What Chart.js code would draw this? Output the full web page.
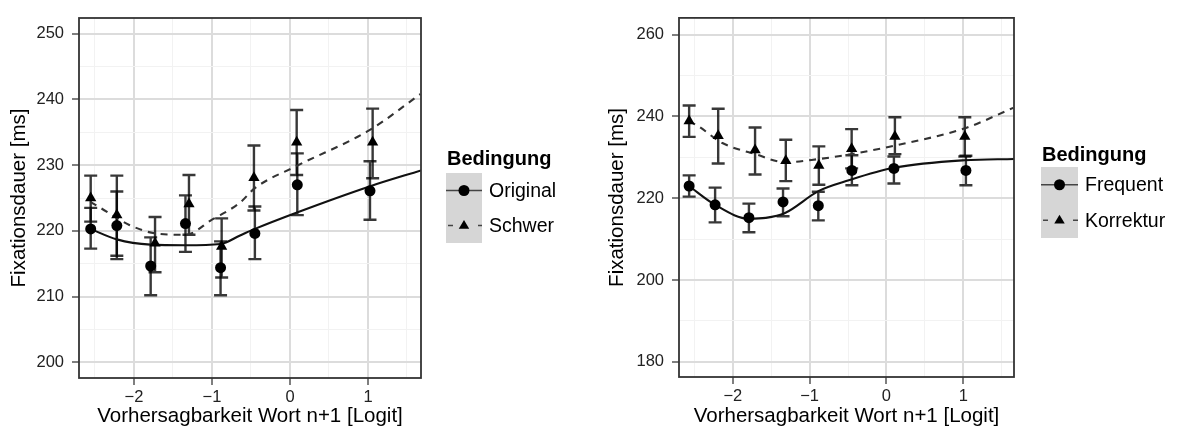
<!DOCTYPE html>
<html>
<head>
<meta charset="utf-8">
<script src="https://cdn.jsdelivr.net/npm/chart.js@4.4.1/dist/chart.umd.min.js"></script>
<style>
  body { margin: 0; background: #fff; }
  #wrap { position: relative; width: 1179px; height: 430px; }
  canvas { position: absolute; top: 0; }
</style>
</head>
<body>
<div id="wrap">
  <canvas id="leftChart" width="600" height="430" style="left:0"></canvas>
  <canvas id="rightChart" width="579" height="430" style="left:600px"></canvas>
</div>
<script>
// ---- left panel: Original / Schwer ----
const leftConditions = ["Original", "Schwer"];
const origX  = [-2.555, -2.22, -1.786, -1.34, -0.89, -0.45, 0.094, 1.026];
const origY  = [220.3, 220.8, 214.65, 221.1, 214.4, 219.6, 227.0, 226.1];
const origLo = [217.3, 215.7, 210.2, 216.8, 210.2, 215.7, 222.4, 221.7];
const origHi = [223.5, 226.0, 219.0, 225.4, 218.4, 223.7, 231.8, 230.6];
const schwerX  = [-2.555, -2.22, -1.73, -1.295, -0.876, -0.462, 0.086, 1.06];
const schwerY  = [225.0, 222.4, 218.1, 224.1, 217.6, 228.1, 233.5, 233.5];
const schwerLo = [221.4, 216.2, 213.7, 219.4, 212.9, 223.1, 228.5, 228.0];
const schwerHi = [228.4, 228.4, 222.1, 228.5, 221.9, 233.0, 238.4, 238.6];
// fitted curves
const origFitX = [-2.56, -2.22, -1.79, -1.34, -0.89, -0.64, -0.45, 0.09, 1.03, 1.68];
const origFitY = [220.3, 218.7, 217.9, 217.8, 218.0, 219.3, 220.3, 222.8, 226.8, 229.2];
const schwerFitX = [-2.56, -2.43, -2.06, -1.72, -1.34, -1.0, -0.64, -0.45, 0.09, 1.03, 1.67];
const schwerFitY = [224.4, 223.5, 220.9, 219.6, 219.4, 221.7, 224.3, 226.5, 229.9, 235.4, 240.8];
const leftYMajor = [200, 210, 220, 230, 240, 250];
const leftYMinor = [205, 215, 225, 235, 245];

// ---- right panel: Frequent / Korrektur ----
const rightConditions = ["Frequent", "Korrektur"];
const freqX  = [-2.568, -2.23, -1.79, -1.346, -0.887, -0.45, 0.097, 1.034];
const freqY  = [223.0, 218.4, 215.25, 219.1, 218.2, 226.8, 227.3, 226.8];
const freqLo = [220.4, 214.1, 211.7, 215.6, 214.6, 223.2, 223.6, 223.2];
const freqHi = [225.6, 222.6, 218.7, 222.4, 221.6, 230.5, 230.2, 230.4];
const korrX  = [-2.568, -2.19, -1.71, -1.31, -0.88, -0.453, 0.11, 1.02];
const korrY  = [238.9, 235.3, 231.8, 229.2, 228.0, 232.1, 235.1, 235.1];
const korrLo = [235.0, 228.5, 225.8, 224.2, 223.3, 227.3, 230.8, 230.2];
const korrHi = [242.7, 241.9, 237.3, 234.3, 232.7, 236.9, 239.8, 239.8];
const freqFitX = [-2.57, -2.23, -1.79, -1.57, -1.32, -0.88, -0.49, 0.11, 1.02, 1.66];
const freqFitY = [223.0, 218.4, 215.0, 215.2, 216.4, 221.8, 224.4, 227.5, 229.3, 229.6];
const korrFitX = [-2.57, -2.44, -2.135, -1.71, -1.31, -0.88, -0.45, 0.11, 1.02, 1.65];
const korrFitY = [238.9, 237.5, 233.5, 230.8, 228.8, 229.6, 230.8, 232.9, 237.1, 242.1];
const rightYMajor = [180, 200, 220, 240, 260];
const rightYMinor = [190, 210, 230, 250];

const xMajor = [-2, -1, 0, 1];
const xMinor = [-2.5, -1.5, -0.5, 0.5, 1.5];

Chart.defaults.font.family = "'Liberation Sans', Arial, sans-serif";
Chart.defaults.color = "#222";

const toPoints = (xs, ys) => xs.map((x, i) => ({ x: x, y: ys[i] }));

function setTicks(major, minor) {
  return (scale) => {
    const list = major.map((v) => ({ value: v }))
      .concat(minor.map((v) => ({ value: v, minor: true })));
    list.sort((a, b) => a.value - b.value);
    scale.ticks = list;
  };
}

function fmt(v) {
  return v < 0 ? "\u2212" + Math.abs(v) : String(v);
}

const gridOpts = {
  color: (ctx) => (ctx.tick && ctx.tick.minor ? "#f2f2f2" : "#dcdcdc"),
  lineWidth: (ctx) => (ctx.tick && ctx.tick.minor ? 1 : 2),
  tickColor: (ctx) => (ctx.tick && ctx.tick.minor ? "rgba(0,0,0,0)" : "#555"),
  tickWidth: 1.5,
  tickLength: 7
};

const errorBars = {
  id: "errorBars",
  beforeDatasetsDraw(chart) {
    const { ctx, scales } = chart;
    ctx.save();
    ctx.strokeStyle = "rgba(0,0,0,0.78)";
    ctx.lineWidth = 2.4;
    chart.data.datasets.forEach((ds) => {
      if (!ds.errLo) return;
      ds.data.forEach((p, i) => {
        const px = scales.x.getPixelForValue(p.x);
        const y1 = scales.y.getPixelForValue(ds.errLo[i]);
        const y2 = scales.y.getPixelForValue(ds.errHi[i]);
        ctx.beginPath();
        ctx.moveTo(px, y1); ctx.lineTo(px, y2);
        ctx.moveTo(px - 6.5, y1); ctx.lineTo(px + 6.5, y1);
        ctx.moveTo(px - 6.5, y2); ctx.lineTo(px + 6.5, y2);
        ctx.stroke();
      });
    });
    ctx.restore();
  }
};

const panelBox = {
  id: "panelBox",
  afterDatasetsDraw(chart) {
    const { ctx, chartArea: a } = chart;
    ctx.save();
    ctx.strokeStyle = "#333";
    ctx.lineWidth = 1.8;
    ctx.strokeRect(a.left, a.top, a.right - a.left, a.bottom - a.top);
    ctx.restore();
  }
};

function drawMarker(ctx, style, x, y, r) {
  ctx.beginPath();
  if (style === "triangle") {
    ctx.moveTo(x, y - r);
    ctx.lineTo(x + r * 0.95, y + r * 0.6);
    ctx.lineTo(x - r * 0.95, y + r * 0.6);
    ctx.closePath();
  } else {
    ctx.arc(x, y, r, 0, Math.PI * 2);
  }
  ctx.fill();
}

const ggLegend = {
  id: "ggLegend",
  afterDraw(chart, args, opts) {
    const { ctx } = chart;
    ctx.save();
    ctx.fillStyle = "#000";
    ctx.font = "bold 20px 'Liberation Sans', Arial, sans-serif";
    ctx.textBaseline = "middle";
    ctx.fillText(opts.title, opts.x + 1, opts.titleY);
    ctx.fillStyle = "#d6d6d6";
    ctx.fillRect(opts.x, opts.boxY, opts.boxW, opts.keyH * opts.labels.length);
    opts.labels.forEach((label, i) => {
      const cy = opts.boxY + opts.keyH * (i + 0.5);
      ctx.strokeStyle = "#444";
      ctx.lineWidth = 1.6;
      ctx.setLineDash(i === 0 ? [] : [5, 5]);
      ctx.beginPath();
      ctx.moveTo(opts.x + (i === 0 ? 0 : 2), cy);
      ctx.lineTo(opts.x + opts.boxW, cy);
      ctx.stroke();
      ctx.setLineDash([]);
      ctx.fillStyle = "#d6d6d6";
      if (i > 0) ctx.fillRect(opts.x + opts.boxW / 2 - 9, cy - 8, 18, 16);
      ctx.fillStyle = "#000";
      drawMarker(ctx, i === 0 ? "circle" : "triangle", opts.x + opts.boxW / 2, cy, 5.5);
      ctx.font = "19.5px 'Liberation Sans', Arial, sans-serif";
      ctx.fillText(label, opts.x + opts.boxW + 7, cy + 1);
    });
    ctx.restore();
  }
};

function makePanel(id, p) {
  return new Chart(document.getElementById(id), {
    type: "scatter",
    data: {
      datasets: [
        {
          label: p.names[0], data: toPoints(p.ax, p.ay), errLo: p.aLo, errHi: p.aHi,
          pointStyle: "circle", pointRadius: 5.5, backgroundColor: "#000", borderColor: "#000", borderWidth: 0
        },
        {
          label: p.names[1], data: toPoints(p.bx, p.by), errLo: p.bLo, errHi: p.bHi,
          pointStyle: "triangle", pointRadius: 6.5, backgroundColor: "#000", borderColor: "#000", borderWidth: 0
        },
        {
          label: p.names[0] + " fit", data: toPoints(p.afx, p.afy), showLine: true, pointRadius: 0,
          borderColor: "#111", borderWidth: 2.1, cubicInterpolationMode: "monotone"
        },
        {
          label: p.names[1] + " fit", data: toPoints(p.bfx, p.bfy), showLine: true, pointRadius: 0,
          borderColor: "#333", borderWidth: 2.1, borderDash: [7, 6], cubicInterpolationMode: "monotone"
        }
      ]
    },
    options: {
      responsive: false,
      animation: false,
      events: [],
      layout: { padding: { left: 0, right: p.padRight, top: p.padTop, bottom: 0 } },
      plugins: {
        legend: { display: false },
        tooltip: { enabled: false },
        ggLegend: p.legend
      },
      scales: {
        x: {
          type: "linear", min: p.xMin, max: p.xMax,
          afterBuildTicks: setTicks(xMajor, xMinor),
          afterFit: (s) => { s.height = p.xHeight; },
          grid: gridOpts,
          border: { display: false },
          ticks: {
            font: { size: 16.5 }, padding: 3, maxRotation: 0, autoSkip: false,
            callback: (v, i, t) => (t[i].minor ? "" : fmt(v))
          },
          title: {
            display: true, text: "Vorhersagbarkeit Wort n+1 [Logit]",
            font: { size: 20.5 }, color: "#000", padding: { top: 0, bottom: 1 }
          }
        },
        y: {
          type: "linear", min: p.yMin, max: p.yMax,
          afterBuildTicks: setTicks(p.yMajor, p.yMinor),
          afterFit: (s) => { s.width = p.yWidth; },
          grid: gridOpts,
          border: { display: false },
          ticks: {
            font: { size: 16.5 }, padding: 8, autoSkip: false,
            callback: (v, i, t) => (t[i].minor ? "" : fmt(v))
          },
          title: {
            display: true, text: "Fixationsdauer [ms]",
            font: { size: 20.5 }, color: "#000", padding: { top: p.yTitlePad, bottom: 0 }
          }
        }
      }
    },
    plugins: [errorBars, panelBox, ggLegend]
  });
}

makePanel("leftChart", {
  names: leftConditions,
  ax: origX, ay: origY, aLo: origLo, aHi: origHi,
  bx: schwerX, by: schwerY, bLo: schwerLo, bHi: schwerHi,
  afx: origFitX, afy: origFitY, bfx: schwerFitX, bfy: schwerFitY,
  yMajor: leftYMajor, yMinor: leftYMinor,
  xMin: -2.705, xMax: 1.68, yMin: 197.6, yMax: 252.4,
  padRight: 179, padTop: 18, yWidth: 79, xHeight: 52, yTitlePad: 7,
  legend: { title: "Bedingung", labels: leftConditions, x: 446, titleY: 159, boxY: 173, boxW: 36, keyH: 35 }
});

makePanel("rightChart", {
  names: rightConditions,
  ax: freqX, ay: freqY, aLo: freqLo, aHi: freqHi,
  bx: korrX, by: korrY, bLo: korrLo, bHi: korrHi,
  afx: freqFitX, afy: freqFitY, bfx: korrFitX, bfy: korrFitY,
  yMajor: rightYMajor, yMinor: rightYMinor,
  xMin: -2.70, xMax: 1.66, yMin: 176.3, yMax: 264.1,
  padRight: 165, padTop: 8, yWidth: 79, xHeight: 53, yTitlePad: 5,
  legend: { title: "Bedingung", labels: rightConditions, x: 441, titleY: 155, boxY: 167, boxW: 37, keyH: 35.5 }
});
</script>
</body>
</html>
